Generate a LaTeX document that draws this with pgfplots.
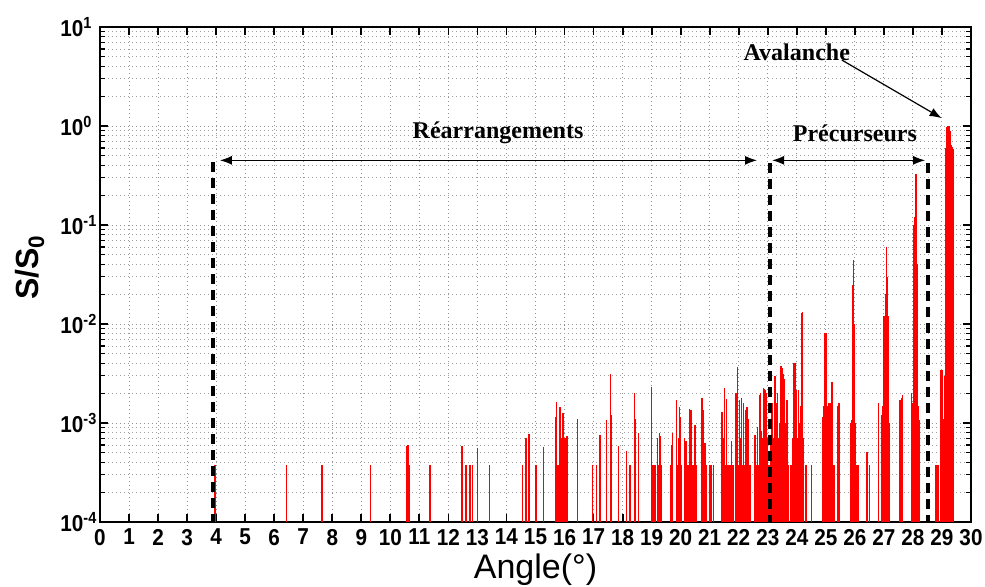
\documentclass[border=0pt]{standalone}
\usepackage{fontspec}
\setmainfont{Liberation Sans}
\newfontfamily\tickfont[FakeStretch=0.9]{Liberation Sans}
\newfontfamily\annfont{Liberation Serif}
\usepackage{pgfplots}
\pgfplotsset{compat=1.18}
\usepackage{pgfplotstable}
\usetikzlibrary{arrows.meta}

% spike heights S/S0 (x = angle in degrees)
\pgfplotstableread{
x y
3.96 3.8e-4
6.43 3.8e-4
7.64 3.8e-4
9.32 3.8e-4
10.55 3.8e-4
10.58 5.9e-4
10.61 6.0e-4
10.64 3.8e-4
11.37 3.8e-4
12.47 5.8e-4
12.60 3.8e-4
12.75 3.8e-4
12.84 3.8e-4
13.01 5.6e-4
13.41 3.8e-4
14.56 3.8e-4
14.67 7.0e-4
14.77 7.7e-4
15.02 3.8e-4
15.27 5.7e-4
15.70 1.14e-3
15.73 1.64e-3
15.76 3.8e-4
15.79 3.8e-4
15.85 1.44e-3
15.88 7.0e-4
15.91 3.8e-4
15.94 1.27e-3
15.96 1.25e-3
15.99 3.8e-4
16.02 7.0e-4
16.05 3.8e-4
16.08 7.4e-4
16.10 7.2e-4
16.44 1.09e-3
16.97 3.8e-4
17.11 3.8e-4
17.22 7.6e-4
17.45 1.07e-3
17.59 3.1e-3
17.61 1.2e-3
17.85 5.8e-4
18.14 5.25e-4
18.26 3.8e-4
18.41 2.0e-3
18.43 1.1e-3
18.54 7.9e-4
19.00 2.3e-3
19.03 3.8e-4
19.08 3.8e-4
19.12 3.8e-4
19.20 7.0e-4
19.24 3.8e-4
19.27 7.9e-4
19.31 7.4e-4
19.35 3.8e-4
19.66 3.8e-4
19.69 6.0e-4
19.72 7.9e-4
19.86 1.7e-3
19.89 3.8e-4
19.92 7.0e-4
19.95 1.46e-3
19.98 1.15e-3
20.01 3.8e-4
20.03 3.8e-4
20.13 7.0e-4
20.19 6.6e-4
20.22 3.8e-4
20.27 3.8e-4
20.30 1.4e-3
20.33 1.35e-3
20.35 1.35e-3
20.38 9.2e-4
20.42 3.8e-4
20.50 9.5e-4
20.53 3.8e-4
20.73 1.8e-3
20.76 1.77e-3
20.78 1.35e-3
20.81 3.8e-4
20.84 6.3e-4
20.87 3.8e-4
21.00 3.8e-4
21.04 3.8e-4
21.07 3.8e-4
21.13 3.8e-4
21.42 1.3e-3
21.46 3.8e-4
21.48 7.0e-4
21.51 2.25e-3
21.54 3.8e-4
21.57 1.74e-3
21.61 3.8e-4
21.64 3.8e-4
21.69 3.8e-4
21.72 3.8e-4
21.76 6.6e-4
21.80 3.8e-4
21.88 3.8e-4
21.91 2.0e-3
21.96 3.7e-3
21.99 3.8e-4
22.02 1.7e-3
22.06 7.0e-4
22.10 1.8e-3
22.13 3.8e-4
22.16 1.6e-3
22.19 3.8e-4
22.22 3.8e-4
22.25 1.35e-3
22.28 1.46e-3
22.31 3.8e-4
22.33 1.1e-3
22.36 3.8e-4
22.39 3.8e-4
22.56 7.6e-4
22.60 3.8e-4
22.64 9.2e-4
22.67 3.8e-4
22.71 1.9e-3
22.74 2.0e-3
22.77 3.8e-4
22.79 8.4e-4
22.82 7.0e-4
22.85 2.25e-3
22.87 2.2e-3
22.89 7.0e-4
22.91 2.15e-3
22.94 2.0e-3
22.97 7.0e-4
22.99 6.3e-4
23.02 3.8e-4
23.06 3.8e-4
23.11 7.0e-4
23.14 1.6e-3
23.18 3.8e-4
23.22 7.0e-4
23.25 3.0e-3
23.28 7.0e-4
23.31 1.6e-3
23.34 2.0e-3
23.38 7.0e-4
23.41 1.0e-3
23.45 3.8e-3
23.49 3.6e-3
23.52 3.15e-3
23.55 1.0e-3
23.57 2.8e-3
23.60 7.0e-4
23.63 1.0e-3
23.65 1.7e-3
23.68 1.7e-3
23.72 3.8e-4
23.80 3.8e-4
23.85 7.0e-4
23.88 4.0e-3
23.91 4.0e-3
23.94 4.0e-3
23.96 1.0e-3
23.98 2.15e-3
24.01 7.0e-4
24.05 2.15e-3
24.08 7.0e-4
24.11 1.0e-3
24.14 1.5e-3
24.17 1.3e-2
24.20 1.33e-2
24.23 7.0e-4
24.32 3.8e-4
24.51 3.8e-4
24.90 1.15e-3
24.92 1.15e-3
24.94 1.5e-3
24.97 8.1e-3
25.00 8.2e-3
25.02 3.6e-3
25.04 1.5e-3
25.06 3.8e-4
25.09 1.6e-3
25.12 7.0e-4
25.15 1.6e-3
25.20 2.6e-3
25.23 2.6e-3
25.28 3.8e-4
25.41 1.5e-3
25.43 1.6e-3
25.47 1.6e-3
25.84 6.0e-4
25.86 1.0e-3
25.89 1.07e-3
25.91 1.1e-3
25.92 2.3e-2
25.94 2.5e-2
25.96 4.4e-2
25.98 1.0e-2
26.00 1.0e-3
26.02 7.0e-4
26.07 3.8e-4
26.12 3.8e-4
26.41 5.1e-4
26.44 5.1e-4
26.50 3.8e-4
26.81 1.6e-3
26.93 1.2e-3
26.95 1.25e-3
26.97 1.5e-3
26.99 1.0e-2
27.01 1.2e-2
27.03 1.1e-2
27.05 1.3e-2
27.07 2.0e-2
27.08 6.0e-2
27.10 3.0e-2
27.12 1.2e-2
27.14 1.2e-2
27.16 1.5e-3
27.18 1.0e-3
27.56 1.7e-3
27.59 7.0e-4
27.61 1.8e-3
27.65 1.9e-3
27.96 2.0e-3
27.98 1.6e-3
28.00 1.5e-3
28.02 8.0e-2
28.04 1.0e-1
28.06 4.0e-2
28.07 1.2e-1
28.09 4.4e-2
28.10 3.3e-1
28.12 4.4e-2
28.14 4.0e-2
28.16 1.2e-2
28.18 1.5e-3
28.20 1.2e-3
28.22 1.07e-3
28.80 3.8e-4
28.86 3.8e-4
28.94 7.9e-4
28.97 3.4e-3
28.99 3.4e-3
29.02 3.4e-3
29.05 1.1e-3
29.08 2.0e-3
29.10 3.0e-3
29.12 0.3
29.14 0.6
29.16 0.9
29.18 0.97
29.20 1.0
29.22 1.0
29.24 0.99
29.26 0.95
29.28 0.9
29.30 0.75
29.32 0.65
29.34 0.62
29.36 0.6
29.38 0.58
29.40 0.57
}\spikes

\begin{document}
\begin{tikzpicture}
\path[use as bounding box] (-50pt,-32pt) rectangle (442.5pt,261pt);
\begin{axis}[
    at={(0,0)}, anchor=south west,
    scale only axis,
    width=435.5pt, height=247.5pt,
    ymode=log, log origin y=infty,
    xmin=0, xmax=30,
    ymin=1e-4, ymax=10,
    xtick={0,1,...,30},
    ytick={1e-4,1e-3,1e-2,1e-1,1,10},
    yticklabels={10\textsuperscript{-4},10\textsuperscript{-3},10\textsuperscript{-2},10\textsuperscript{-1},10\textsuperscript{0},10\textsuperscript{1}},
    xtick pos=both, ytick pos=both,
    tick align=inside,
    major tick length=4pt, minor tick length=2.5pt,
    every tick/.style={black, line width=0.9pt},
    minor tick style={black, line width=0.6pt},
    axis line style={line width=0.9pt},
    xmajorgrids, ymajorgrids, yminorgrids,
    major grid style={gray!85, line width=0.5pt, dash pattern=on 0.7pt off 1.3pt},
    minor grid style={gray!75, line width=0.45pt, dash pattern=on 0.7pt off 1.3pt},
    /pgf/number format/assume math mode=true,
    tick label style={font=\fontsize{11.5}{13}\tickfont\bfseries},
    yticklabel style={anchor=west, xshift=-23.3pt},
    xlabel={Angle(°)},
    ylabel={S/S\textsubscript{0}},
    xlabel style={at={(rel axis cs:0.5,0)}, anchor=center, yshift=-24pt, font=\fontsize{17}{19}\selectfont},
    ylabel style={at={(rel axis cs:0,0.515)}, anchor=center, yshift=35pt, font=\fontsize{16}{18}\selectfont\bfseries},
    clip=false,
]
\addplot[ycomb, color=red, line width=0.7pt, mark=none] table[x=x, y=y] {\spikes};

% dashed boundaries of the three regimes
\draw[black, line width=1.6pt, dash pattern=on 5pt off 3pt] (axis cs:3.89,0.43) -- (axis cs:3.89,1e-4);
\draw[black, line width=1.6pt, dash pattern=on 5pt off 3pt] (axis cs:23.08,0.42) -- (axis cs:23.08,1e-4);
\draw[black, line width=1.6pt, dash pattern=on 5pt off 3pt] (axis cs:28.52,0.42) -- (axis cs:28.52,1e-4);

% arrows and labels
\draw[line width=0.6pt, {Latex[length=6pt,width=4.5pt]}-{Latex[length=6pt,width=4.5pt]}] (axis cs:4.13,0.45) -- (axis cs:22.63,0.45);
\draw[line width=0.6pt, {Latex[length=6pt,width=4.5pt]}-{Latex[length=6pt,width=4.5pt]}] (axis cs:23.15,0.45) -- (axis cs:28.42,0.45);
\draw[line width=0.6pt, -{Latex[length=6pt,width=4.5pt]}] (axis cs:25.55,4.64) -- (axis cs:28.99,1.2);
\node[font=\fontsize{12}{14}\annfont\bfseries] at (axis cs:13.71,0.85) {Réarrangements};
\node[font=\fontsize{12}{14}\annfont\bfseries] at (axis cs:26.0,0.85) {Précurseurs};
\node[font=\fontsize{12}{14}\annfont\bfseries] at (axis cs:24.0,5.6) {Avalanche};
\end{axis}
\end{tikzpicture}
\end{document}
